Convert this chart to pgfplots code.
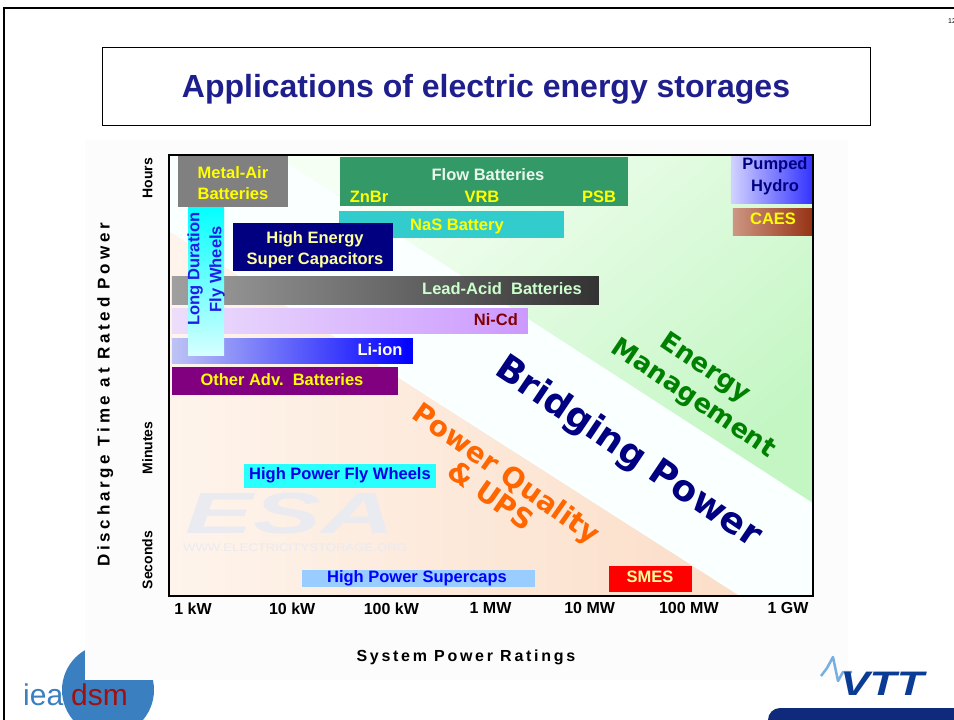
\documentclass[border=0pt]{standalone}
\usepackage{fontspec}
\setmainfont{Liberation Sans}
\newfontfamily\dvs{DejaVu Sans}
\newfontfamily\lsY[LetterSpace=22]{Liberation Sans}
\newfontfamily\lsX[LetterSpace=17]{Liberation Sans}
\usepackage{pgfplots}
\pgfplotsset{compat=1.18}
\newcommand\fs[2]{\fontsize{#1}{#2}\selectfont}
\definecolor{titleblue}{RGB}{30,30,140}
\definecolor{peachL}{RGB}{254,244,236}
\definecolor{peachD}{RGB}{251,222,200}
\definecolor{cyanB}{RGB}{196,255,255}
\definecolor{cyanT}{RGB}{250,255,255}
\definecolor{cyanW}{RGB}{250,255,255}
\definecolor{greenL}{RGB}{246,255,244}
\definecolor{greenD}{RGB}{196,246,196}
\definecolor{metalgray}{RGB}{128,128,128}
\definecolor{flowgreen}{RGB}{51,153,102}
\definecolor{nasteal}{RGB}{51,204,204}
\definecolor{navybox}{RGB}{0,0,128}
\definecolor{otherpurple}{RGB}{128,0,128}
\definecolor{supercap}{RGB}{153,204,255}
\definecolor{smesred}{RGB}{255,0,0}
\definecolor{paleyellow}{RGB}{255,255,153}
\definecolor{ylw}{RGB}{255,255,0}
\definecolor{maroon}{RGB}{128,0,0}
\definecolor{leadtext}{RGB}{204,255,204}
\definecolor{flowtext}{RGB}{232,248,236}
\definecolor{emgreen}{RGB}{0,128,0}
\definecolor{pqorange}{RGB}{255,102,0}
\definecolor{esagray}{RGB}{234,234,241}
\definecolor{logoblue}{RGB}{58,127,192}
\definecolor{logored}{RGB}{160,16,16}
\definecolor{vttblue}{RGB}{10,60,150}
\definecolor{vttlight}{RGB}{120,175,225}
\definecolor{barnavy}{RGB}{15,42,122}
\begin{document}
\begin{tikzpicture}
\path[use as bounding box] (0pt,0pt) rectangle (954pt,-720pt);
\begin{scope}[x=1pt,y=-1pt]
\fill[white] (0,0) rectangle (954,720);
\draw[black,line width=2.5pt] (4,722) -- (4,8) -- (960,8);
\node[font=\fs{7}{8}] at (952,21) {12};
\draw[black, line width=0.8pt, fill=white] (102,47) rectangle (870,125);
\node[font=\fs{32}{36}\bfseries, text=titleblue] at (486,89) {Applications of electric energy storages};
% ieadsm logo (partly hidden)
\fill[logoblue] (108,690) circle (46);
\node[font=\fs{30}{32}, text=logoblue, anchor=base west, inner sep=0pt] at (23,705) {iea};
\node[font=\fs{30}{32}, text=logored, anchor=base west, inner sep=0pt] at (71,705) {dsm};
% chart panel
\fill[white!99!black] (85,140) rectangle (848,680);
\end{scope}
\begin{axis}[
  at={(169pt,-596pt)}, anchor=south west,
  scale only axis, width=644pt, height=441pt,
  xmin=-0.242, xmax=6.252, ymin=0, ymax=441,
  axis on top, no markers,
  axis line style={black, line width=1.3pt},
  major tick length=0pt,
  xtick={0,1,2,3,4,5,6},
  xticklabels={1 kW,10 kW,100 kW,1 MW,10 MW,100 MW,1 GW},
  xticklabel style={font=\fs{16}{18}\bfseries, yshift=-3pt},
  ytick={36,148,418},
  yticklabels={Seconds,Minutes,Hours},
  yticklabel style={font=\fs{14}{16}\bfseries, xshift=-13pt, rotate=90, anchor=south},
  xlabel={System Power Ratings},
  xlabel style={font=\lsX\fs{16}{18}\bfseries, at={(axis description cs:0.461,-0.14)}, anchor=center},
  ylabel={Discharge Time at Rated Power},
  ylabel style={font=\lsY\fs{17}{19}\bfseries, at={(axis description cs:-0.099,0.456)}, anchor=center},
]
% application bands
\addplot[draw=none, left color=peachL, right color=peachD] coordinates {(-0.242,365) (5.516,0) (-0.242,0)} -- cycle;
\addplot[draw=none, top color=cyanT, middle color=cyanB, bottom color=cyanW, shading angle=40] coordinates {(-0.242,365) (-0.242,441) (0.827,441) (6.252,93) (6.252,0) (5.516,0)} -- cycle;
\addplot[draw=none, top color=greenL, bottom color=greenD, shading angle=40] coordinates {(0.827,441) (6.252,441) (6.252,93)} -- cycle;
% watermark
\node[font=\fs{58}{58}\bfseries\itshape, text=esagray, xscale=1.75, inner sep=0pt] at (axis cs:0.98,82) {ESA};
\node[font=\fs{11}{12}, text=esagray, xscale=1.2] at (axis cs:1.03,48) {WWW.ELECTRICITYSTORAGE.ORG};
% storage technologies
\addplot[draw=none, left color=gray!75, right color=black!80] coordinates {(-0.212,292) (4.094,292) (4.094,320) (-0.212,320)} -- cycle;
\addplot[draw=none, left color={rgb,255:red,236;green,222;blue,251}, right color={rgb,255:red,204;green,153;blue,255}] coordinates {(-0.212,263) (3.378,263) (3.378,288) (-0.212,288)} -- cycle;
\addplot[draw=none, left color={rgb,255:red,190;green,195;blue,245}, right color={rgb,255:red,0;green,0;blue,255}] coordinates {(-0.212,233) (2.218,233) (2.218,258) (-0.212,258)} -- cycle;
\addplot[draw=none, fill=otherpurple] coordinates {(-0.212,201) (2.067,201) (2.067,229) (-0.212,229)} -- cycle;
\addplot[draw=none, top color={rgb,255:red,0;green,255;blue,255}, bottom color={rgb,255:red,214;green,255;blue,255}] coordinates {(-0.050,241) (0.313,241) (0.313,391) (-0.050,391)} -- cycle;
\addplot[draw=none, fill=metalgray] coordinates {(-0.151,389) (0.958,389) (0.958,440) (-0.151,440)} -- cycle;
\addplot[draw=none, fill=flowgreen] coordinates {(1.482,390) (4.386,390) (4.386,439) (1.482,439)} -- cycle;
\addplot[draw=none, fill=nasteal] coordinates {(1.472,358) (3.741,358) (3.741,385) (1.472,385)} -- cycle;
\addplot[draw=none, fill=navybox] coordinates {(0.403,325) (2.017,325) (2.017,373) (0.403,373)} -- cycle;
\addplot[draw=none, left color={rgb,255:red,40;green,255;blue,255}, middle color={rgb,255:red,235;green,255;blue,255}, right color={rgb,255:red,40;green,255;blue,255}] coordinates {(0.514,109) (2.450,109) (2.450,132) (0.514,132)} -- cycle;
\addplot[draw=none, fill=supercap] coordinates {(1.099,9) (3.449,9) (3.449,26) (1.099,26)} -- cycle;
\addplot[draw=none, fill=smesred] coordinates {(4.195,4) (5.032,4) (5.032,30) (4.195,30)} -- cycle;
\addplot[draw=none, left color={rgb,255:red,210;green,210;blue,255}, right color={rgb,255:red,50;green,50;blue,255}] coordinates {(5.425,393) (6.252,393) (6.252,441) (5.425,441)} -- cycle;
\addplot[draw=none, left color={rgb,255:red,205;green,150;blue,130}, right color={rgb,255:red,150;green,50;blue,20}] coordinates {(5.445,361) (6.252,361) (6.252,388) (5.445,388)} -- cycle;
% labels
\begin{scope}[every node/.style={font=\fs{16.5}{21}\bfseries, align=center, inner sep=0pt}]
\node[text=ylw] at (axis cs:0.403,413) {Metal-Air\\Batteries};
\node[text=flowtext] at (axis cs:2.975,421) {Flow Batteries};
\node[text=ylw] at (axis cs:1.775,399) {ZnBr};
\node[text=ylw] at (axis cs:2.914,399) {VRB};
\node[text=ylw] at (axis cs:4.094,399) {PSB};
\node[text=ylw] at (axis cs:2.662,370) {NaS Battery};
\node[text={rgb,255:red,30;green,30;blue,230}, rotate=90, font=\fs{16.5}{22}\bfseries] at (axis cs:0.131,327) {Long Duration\\Fly Wheels};
\node[text=paleyellow] at (axis cs:1.230,346) {High Energy\\Super Capacitors};
\node[text=leadtext] at (axis cs:3.116,307) {Lead-Acid\ \ Batteries};
\node[text=maroon] at (axis cs:3.055,276) {Ni-Cd};
\node[text=white] at (axis cs:1.886,246) {Li-ion};
\node[text=ylw] at (axis cs:0.897,216) {Other Adv.\ \ Batteries};
\node[text={rgb,255:red,0;green,0;blue,230}] at (axis cs:1.482,121) {High Power Fly Wheels};
\node[text={rgb,255:red,0;green,0;blue,255}] at (axis cs:2.259,18) {High Power Supercaps};
\node[text=paleyellow] at (axis cs:4.608,19) {SMES};
\node[text=navybox, font=\fs{16.5}{22}\bfseries] at (axis cs:5.869,420) {Pumped\\Hydro};
\node[text=ylw] at (axis cs:5.849,377) {CAES};
\end{scope}
% application areas
\node[font=\dvs\fs{26}{32}\bfseries, text=emgreen, rotate=-34, align=center] at (axis cs:5.072,214) {Energy\\\hspace*{14pt}Management};
\node[font=\dvs\fs{36}{38}\bfseries, text=navybox, rotate=-34] at (axis cs:4.386,143) {Bridging Power};
\node[font=\dvs\fs{28}{27}\bfseries, text=pqorange, rotate=-35, align=center] at (axis cs:3.086,112) {Power Quality\\\& UPS};
\draw[gray, line width=1.3pt] (rel axis cs:1,0) -- (rel axis cs:1,1);
\draw[black, line width=0.8pt] (rel axis cs:0,1) -- (rel axis cs:1,1);
\end{axis}
\begin{scope}[x=1pt,y=-1pt]
% VTT logo
\draw[vttlight, line width=2.5pt, line join=round] (821,676) -- (827,668) -- (833,657) -- (838,681) -- (843,672) -- (852,672);
\node[font=\fs{34}{36}\bfseries\itshape, text=vttblue, xscale=1.3, inner sep=0pt] at (882,684) {VTT};
\fill[barnavy, rounded corners=12pt] (768,708) rectangle (980,740);
\end{scope}
\end{tikzpicture}
\end{document}
